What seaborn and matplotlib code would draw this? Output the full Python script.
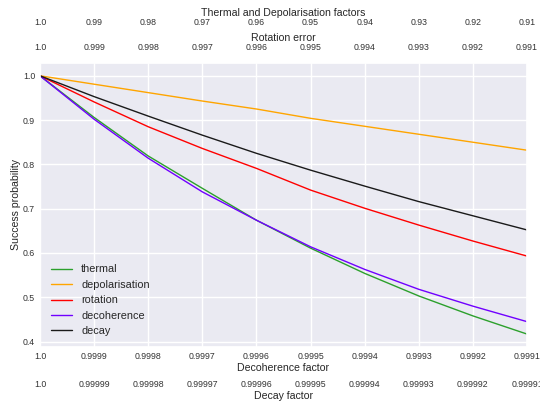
import numpy as np
import pandas as pd
import seaborn as sns
import matplotlib.pyplot as plt

# x-axis factor values (all four scales share the same 10 positions)
decoherence_factor = [1.0, 0.9999, 0.9998, 0.9997, 0.9996, 0.9995, 0.9994, 0.9993, 0.9992, 0.9991]
decoherence_labels = ["1.0", "0.9999", "0.9998", "0.9997", "0.9996", "0.9995",
                      "0.9994", "0.9993", "0.9992", "0.9991"]
decay_labels = ["1.0", "0.99999", "0.99998", "0.99997", "0.99996", "0.99995",
                "0.99994", "0.99993", "0.99992", "0.99991"]
rotation_labels = ["1.0", "0.999", "0.998", "0.997", "0.996", "0.995",
                   "0.994", "0.993", "0.992", "0.991"]
thermal_labels = ["1.0", "0.99", "0.98", "0.97", "0.96", "0.95",
                  "0.94", "0.93", "0.92", "0.91"]

# success probabilities
thermal = [1.0, 0.906, 0.819, 0.746, 0.674, 0.611, 0.554, 0.503, 0.458, 0.417]
depolarisation = [1.0, 0.981, 0.962, 0.943, 0.925, 0.904, 0.886, 0.868, 0.850, 0.832]
rotation = [1.0, 0.941, 0.885, 0.836, 0.791, 0.742, 0.701, 0.663, 0.627, 0.593]
decoherence = [1.0, 0.902, 0.814, 0.738, 0.674, 0.614, 0.563, 0.518, 0.480, 0.445]
decay = [1.0, 0.953, 0.909, 0.866, 0.825, 0.787, 0.751, 0.716, 0.684, 0.652]

series = [
    ("thermal", thermal, "#2ca02c"),
    ("depolarisation", depolarisation, "#ffa500"),
    ("rotation", rotation, "#ff0000"),
    ("decoherence", decoherence, "#7000ff"),
    ("decay", decay, "#1a1a1a"),
]

sns.set_theme(style="darkgrid")
plt.rcParams['font.family'] = ['Liberation Sans', 'DejaVu Sans']

TICK_FS = 6.3
LABEL_FS = 7.6

fig = plt.figure(figsize=(5.4, 4.03), dpi=100)
ax = fig.add_axes([0.074, 0.139, 0.902, 0.705])

for name, values, color in series:
    sns.lineplot(x=decoherence_factor, y=values, ax=ax, label=name,
                 color=color, linewidth=1.0)

ax.set_xlim(decoherence_factor[0], decoherence_factor[-1])
ax.set_xticks(decoherence_factor)
ax.set_xticklabels(decoherence_labels)
ax.set_xlabel("Decoherence factor", fontsize=LABEL_FS, labelpad=1.5)
ax.set_ylabel("Success probability", fontsize=LABEL_FS, labelpad=1.5)
ax.tick_params(axis='both', labelsize=TICK_FS, pad=3.5, length=0, colors='#333333')
ax.legend(loc='lower left', fontsize=7.8, frameon=False,
          handlelength=2.0, labelspacing=0.5, borderaxespad=0.6)

# bottom secondary axis: decay factor
ax_decay = ax.twiny()
ax_decay.grid(False)
ax_decay.xaxis.set_ticks_position('bottom')
ax_decay.xaxis.set_label_position('bottom')
ax_decay.spines['bottom'].set_position(('outward', 20))
ax_decay.set_xlim(ax.get_xlim())
ax_decay.set_xticks(decoherence_factor)
ax_decay.set_xticklabels(decay_labels)
ax_decay.set_xlabel("Decay factor", fontsize=LABEL_FS, labelpad=1.5)
ax_decay.tick_params(axis='x', labelsize=TICK_FS, pad=3.5, length=0, colors='#333333')

# top secondary axis: rotation error
ax_rot = ax.twiny()
ax_rot.grid(False)
ax_rot.set_xlim(ax.get_xlim())
ax_rot.set_xticks(decoherence_factor)
ax_rot.set_xticklabels(rotation_labels)
ax_rot.set_xlabel("Rotation error", fontsize=LABEL_FS, labelpad=1.0)
ax_rot.tick_params(axis='x', labelsize=TICK_FS, pad=8.0, length=0, colors='#333333')

# outermost top axis: thermal and depolarisation factors
ax_th = ax.twiny()
ax_th.grid(False)
ax_th.spines['top'].set_position(('outward', 18))
ax_th.set_xlim(ax.get_xlim())
ax_th.set_xticks(decoherence_factor)
ax_th.set_xticklabels(thermal_labels)
ax_th.set_xlabel("Thermal and Depolarisation factors", fontsize=LABEL_FS, labelpad=1.0)
ax_th.tick_params(axis='x', labelsize=TICK_FS, pad=8.0, length=0, colors='#333333')

for a in (ax_decay, ax_rot, ax_th):
    for s in a.spines.values():
        s.set_visible(False)

fig.savefig("out.png", dpi=100)
